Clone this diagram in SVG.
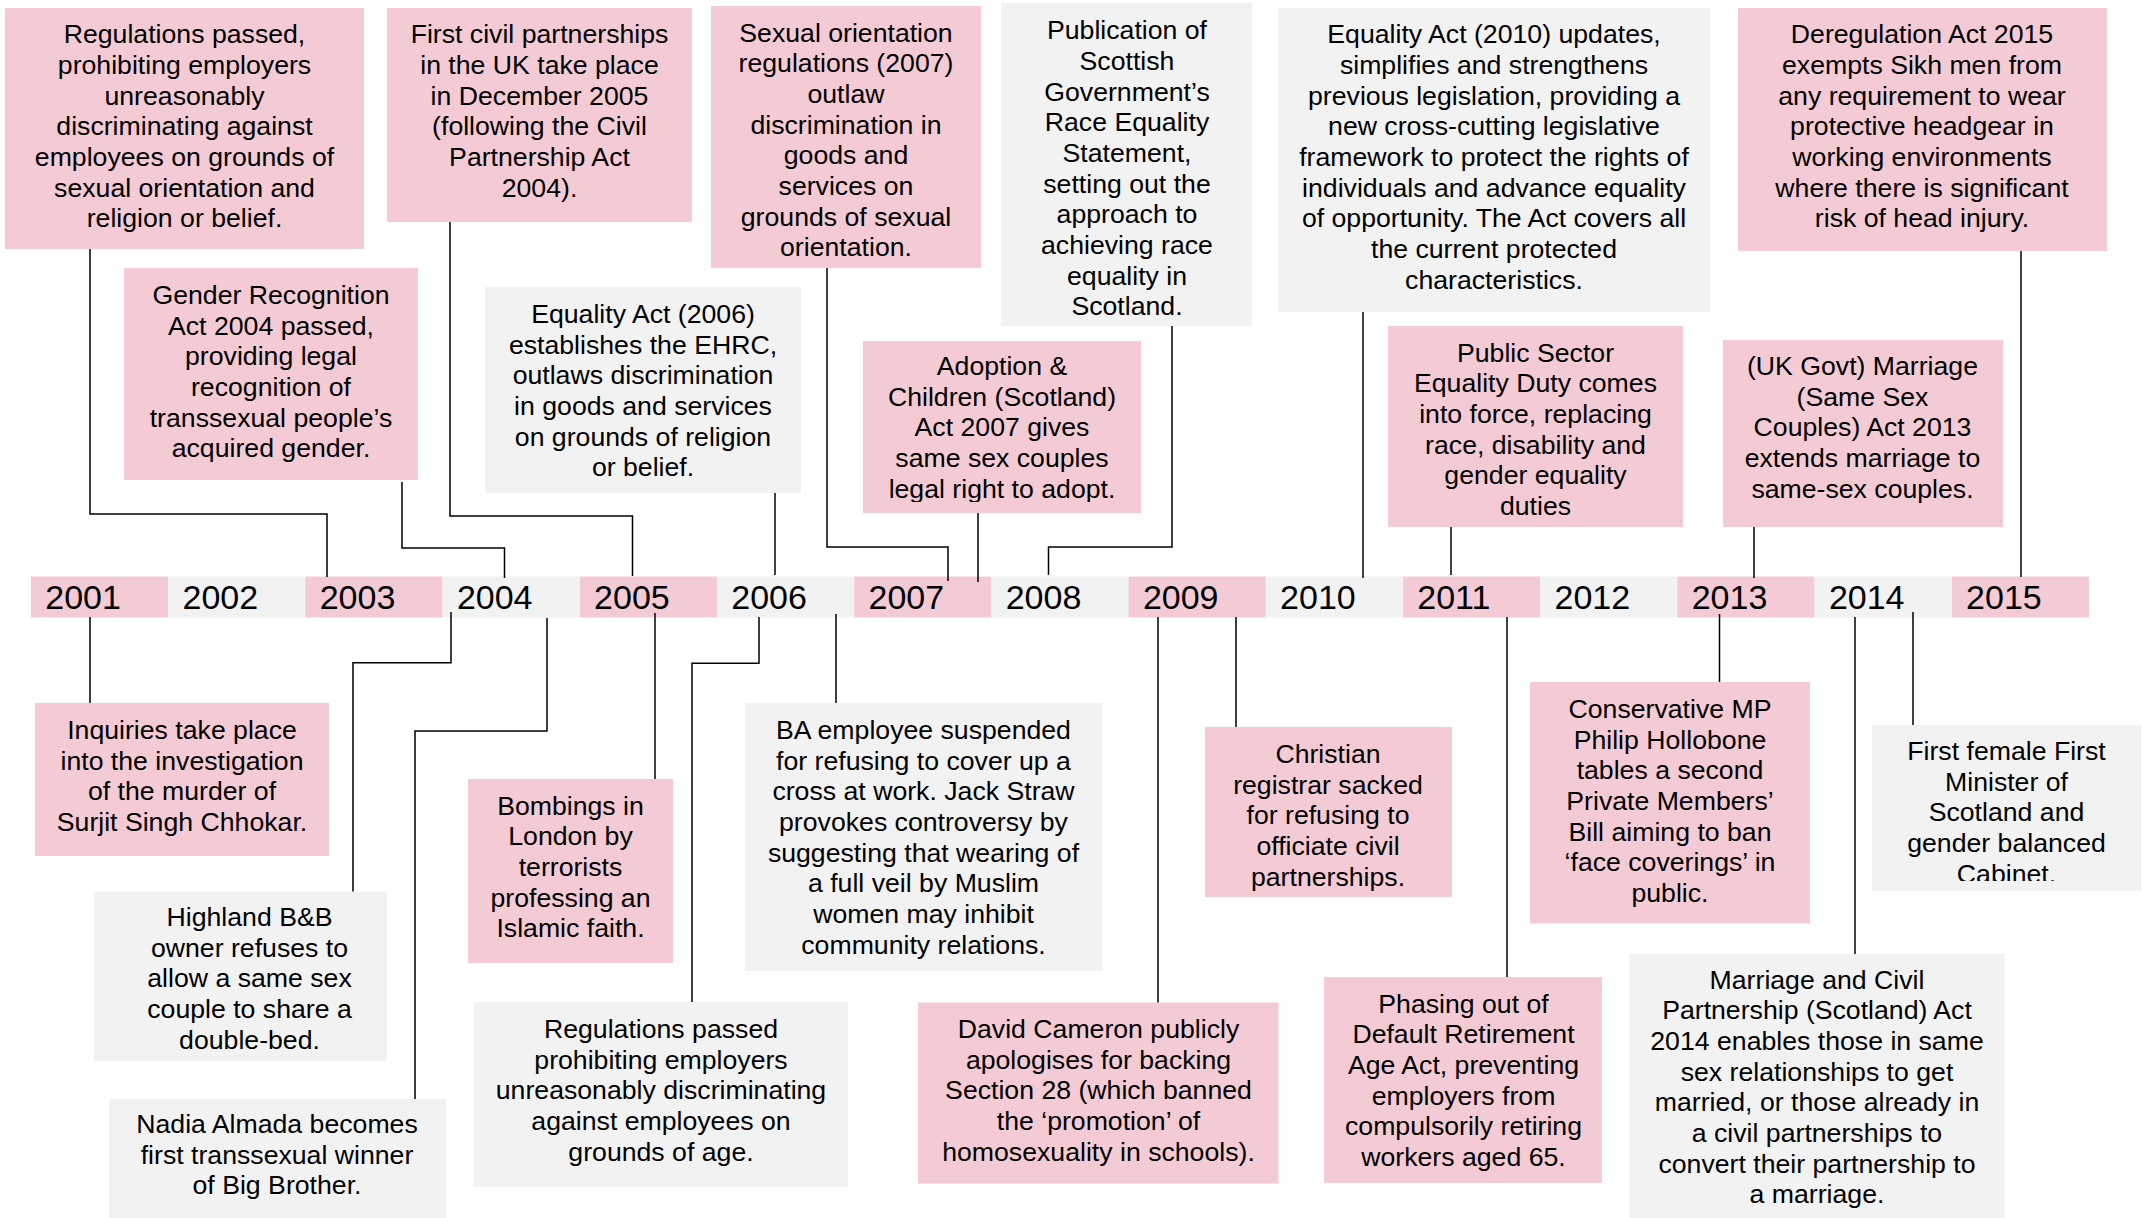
<svg xmlns="http://www.w3.org/2000/svg" width="2150" height="1218" viewBox="0 0 2150 1218">
<style>
.pk{fill:#F4CBD5}
.gy{fill:#F2F2F2}
.t{font-family:"Liberation Sans",Arial,sans-serif;font-size:26.67px;fill:#000;text-anchor:middle}
.yr{font-family:"Liberation Sans",Arial,sans-serif;font-size:34px;fill:#000}
.c{fill:none;stroke:#000;stroke-width:1.5}
</style>
<defs>
<clipPath id="clipG"><rect x="863" y="341" width="278" height="161"/></clipPath>
<clipPath id="clipW"><rect x="1872" y="725" width="269" height="156"/></clipPath>
</defs>
<rect width="2150" height="1218" fill="#FFFFFF"/>

<g id="timeline">
<rect class="pk" x="31" y="576.5" width="137.2" height="41"/>
<rect class="gy" x="168.2" y="576.5" width="137.2" height="41"/>
<rect class="pk" x="305.4" y="576.5" width="137.2" height="41"/>
<rect class="gy" x="442.6" y="576.5" width="137.2" height="41"/>
<rect class="pk" x="579.8" y="576.5" width="137.2" height="41"/>
<rect class="gy" x="717" y="576.5" width="137.2" height="41"/>
<rect class="pk" x="854.2" y="576.5" width="137.2" height="41"/>
<rect class="gy" x="991.4" y="576.5" width="137.2" height="41"/>
<rect class="pk" x="1128.6" y="576.5" width="137.2" height="41"/>
<rect class="gy" x="1265.8" y="576.5" width="137.2" height="41"/>
<rect class="pk" x="1403" y="576.5" width="137.2" height="41"/>
<rect class="gy" x="1540.2" y="576.5" width="137.2" height="41"/>
<rect class="pk" x="1677.4" y="576.5" width="137.2" height="41"/>
<rect class="gy" x="1814.6" y="576.5" width="137.2" height="41"/>
<rect class="pk" x="1951.8" y="576.5" width="137.2" height="41"/>
<text class="yr" x="45.3" y="609">2001</text>
<text class="yr" x="182.5" y="609">2002</text>
<text class="yr" x="319.7" y="609">2003</text>
<text class="yr" x="456.9" y="609">2004</text>
<text class="yr" x="594.1" y="609">2005</text>
<text class="yr" x="731.3" y="609">2006</text>
<text class="yr" x="868.5" y="609">2007</text>
<text class="yr" x="1005.7" y="609">2008</text>
<text class="yr" x="1142.9" y="609">2009</text>
<text class="yr" x="1280.1" y="609">2010</text>
<text class="yr" x="1417.3" y="609">2011</text>
<text class="yr" x="1554.5" y="609">2012</text>
<text class="yr" x="1691.7" y="609">2013</text>
<text class="yr" x="1828.9" y="609">2014</text>
<text class="yr" x="1966.1" y="609">2015</text>
</g>

<g id="n2003a">
<rect class="pk" x="5" y="8" width="359" height="241"/>
<text class="t" y="43.3"><tspan x="184.5">Regulations passed,</tspan><tspan x="184.5" dy="30.67">prohibiting employers</tspan><tspan x="184.5" dy="30.67">unreasonably</tspan><tspan x="184.5" dy="30.67">discriminating against</tspan><tspan x="184.5" dy="30.67">employees on grounds of</tspan><tspan x="184.5" dy="30.67">sexual orientation and</tspan><tspan x="184.5" dy="30.67">religion or belief.</tspan></text>
</g>
<g id="n2005a">
<rect class="pk" x="387" y="8" width="305" height="214"/>
<text class="t" y="43.3"><tspan x="539.5">First civil partnerships</tspan><tspan x="539.5" dy="30.67">in the UK take place</tspan><tspan x="539.5" dy="30.67">in December 2005</tspan><tspan x="539.5" dy="30.67">(following the Civil</tspan><tspan x="539.5" dy="30.67">Partnership Act</tspan><tspan x="539.5" dy="30.67">2004).</tspan></text>
</g>
<g id="n2004a">
<rect class="pk" x="124" y="268" width="294" height="212"/>
<text class="t" y="304"><tspan x="271">Gender Recognition</tspan><tspan x="271" dy="30.67">Act 2004 passed,</tspan><tspan x="271" dy="30.67">providing legal</tspan><tspan x="271" dy="30.67">recognition of</tspan><tspan x="271" dy="30.67">transsexual people’s</tspan><tspan x="271" dy="30.67">acquired gender.</tspan></text>
</g>
<g id="n2006a">
<rect class="gy" x="485" y="287" width="316" height="206"/>
<text class="t" y="323"><tspan x="643">Equality Act (2006)</tspan><tspan x="643" dy="30.67">establishes the EHRC,</tspan><tspan x="643" dy="30.67">outlaws discrimination</tspan><tspan x="643" dy="30.67">in goods and services</tspan><tspan x="643" dy="30.67">on grounds of religion</tspan><tspan x="643" dy="30.67">or belief.</tspan></text>
</g>
<g id="n2007a">
<rect class="pk" x="711" y="6" width="270" height="262"/>
<text class="t" y="41.7"><tspan x="846">Sexual orientation</tspan><tspan x="846" dy="30.67">regulations (2007)</tspan><tspan x="846" dy="30.67">outlaw</tspan><tspan x="846" dy="30.67">discrimination in</tspan><tspan x="846" dy="30.67">goods and</tspan><tspan x="846" dy="30.67">services on</tspan><tspan x="846" dy="30.67">grounds of sexual</tspan><tspan x="846" dy="30.67">orientation.</tspan></text>
</g>
<g id="n2008a">
<rect class="gy" x="1001" y="3" width="251" height="323"/>
<text class="t" y="39.3"><tspan x="1127">Publication of</tspan><tspan x="1127" dy="30.67">Scottish</tspan><tspan x="1127" dy="30.67">Government’s</tspan><tspan x="1127" dy="30.67">Race Equality</tspan><tspan x="1127" dy="30.67">Statement,</tspan><tspan x="1127" dy="30.67">setting out the</tspan><tspan x="1127" dy="30.67">approach to</tspan><tspan x="1127" dy="30.67">achieving race</tspan><tspan x="1127" dy="30.67">equality in</tspan><tspan x="1127" dy="30.67">Scotland.</tspan></text>
</g>
<g id="n2007b">
<rect class="pk" x="863" y="341" width="278" height="172"/>
<text class="t" y="375" clip-path="url(#clipG)"><tspan x="1002">Adoption &amp;</tspan><tspan x="1002" dy="30.67">Children (Scotland)</tspan><tspan x="1002" dy="30.67">Act 2007 gives</tspan><tspan x="1002" dy="30.67">same sex couples</tspan><tspan x="1002" dy="30.67">legal right to adopt.</tspan></text>
</g>
<g id="n2010a">
<rect class="gy" x="1278" y="8" width="432" height="304"/>
<text class="t" y="43.3"><tspan x="1494">Equality Act (2010) updates,</tspan><tspan x="1494" dy="30.67">simplifies and strengthens</tspan><tspan x="1494" dy="30.67">previous legislation, providing a</tspan><tspan x="1494" dy="30.67">new cross-cutting legislative</tspan><tspan x="1494" dy="30.67">framework to protect the rights of</tspan><tspan x="1494" dy="30.67">individuals and advance equality</tspan><tspan x="1494" dy="30.67">of opportunity. The Act covers all</tspan><tspan x="1494" dy="30.67">the current protected</tspan><tspan x="1494" dy="30.67">characteristics.</tspan></text>
</g>
<g id="n2011a">
<rect class="pk" x="1388" y="326" width="295" height="201"/>
<text class="t" y="361.7"><tspan x="1535.5">Public Sector</tspan><tspan x="1535.5" dy="30.67">Equality Duty comes</tspan><tspan x="1535.5" dy="30.67">into force, replacing</tspan><tspan x="1535.5" dy="30.67">race, disability and</tspan><tspan x="1535.5" dy="30.67">gender equality</tspan><tspan x="1535.5" dy="30.67">duties</tspan></text>
</g>
<g id="n2015a">
<rect class="pk" x="1738" y="8" width="369" height="243"/>
<text class="t" y="43.3"><tspan x="1922">Deregulation Act 2015</tspan><tspan x="1922" dy="30.67">exempts Sikh men from</tspan><tspan x="1922" dy="30.67">any requirement to wear</tspan><tspan x="1922" dy="30.67">protective headgear in</tspan><tspan x="1922" dy="30.67">working environments</tspan><tspan x="1922" dy="30.67">where there is significant</tspan><tspan x="1922" dy="30.67">risk of head injury.</tspan></text>
</g>
<g id="n2013a">
<rect class="pk" x="1723" y="340" width="280" height="187"/>
<text class="t" y="375"><tspan x="1862.5">(UK Govt) Marriage</tspan><tspan x="1862.5" dy="30.67">(Same Sex</tspan><tspan x="1862.5" dy="30.67">Couples) Act 2013</tspan><tspan x="1862.5" dy="30.67">extends marriage to</tspan><tspan x="1862.5" dy="30.67">same-sex couples.</tspan></text>
</g>

<g id="n2001b">
<rect class="pk" x="35" y="703" width="294" height="153"/>
<text class="t" y="739"><tspan x="182">Inquiries take place</tspan><tspan x="182" dy="30.67">into the investigation</tspan><tspan x="182" dy="30.67">of the murder of</tspan><tspan x="182" dy="30.67">Surjit Singh Chhokar.</tspan></text>
</g>
<g id="n2004b">
<rect class="gy" x="94" y="891.5" width="293" height="169.5"/>
<text class="t" y="926"><tspan x="249.5">Highland B&amp;B</tspan><tspan x="249.5" dy="30.67">owner refuses to</tspan><tspan x="249.5" dy="30.67">allow a same sex</tspan><tspan x="249.5" dy="30.67">couple to share a</tspan><tspan x="249.5" dy="30.67">double-bed.</tspan></text>
</g>
<g id="n2004c">
<rect class="gy" x="109" y="1099" width="337" height="119"/>
<text class="t" y="1133"><tspan x="277">Nadia Almada becomes</tspan><tspan x="277" dy="30.67">first transsexual winner</tspan><tspan x="277" dy="30.67">of Big Brother.</tspan></text>
</g>
<g id="n2005b">
<rect class="pk" x="468" y="779" width="205" height="184"/>
<text class="t" y="814.6"><tspan x="570.5">Bombings in</tspan><tspan x="570.5" dy="30.67">London by</tspan><tspan x="570.5" dy="30.67">terrorists</tspan><tspan x="570.5" dy="30.67">professing an</tspan><tspan x="570.5" dy="30.67">Islamic faith.</tspan></text>
</g>
<g id="n2006b">
<rect class="gy" x="474" y="1002" width="374" height="185"/>
<text class="t" y="1038"><tspan x="661">Regulations passed</tspan><tspan x="661" dy="30.67">prohibiting employers</tspan><tspan x="661" dy="30.67">unreasonably discriminating</tspan><tspan x="661" dy="30.67">against employees on</tspan><tspan x="661" dy="30.67">grounds of age.</tspan></text>
</g>
<g id="n2006c">
<rect class="gy" x="745" y="703" width="357" height="268"/>
<text class="t" y="739"><tspan x="923.5">BA employee suspended</tspan><tspan x="923.5" dy="30.67">for refusing to cover up a</tspan><tspan x="923.5" dy="30.67">cross at work. Jack Straw</tspan><tspan x="923.5" dy="30.67">provokes controversy by</tspan><tspan x="923.5" dy="30.67">suggesting that wearing of</tspan><tspan x="923.5" dy="30.67">a full veil by Muslim</tspan><tspan x="923.5" dy="30.67">women may inhibit</tspan><tspan x="923.5" dy="30.67">community relations.</tspan></text>
</g>
<g id="n2009b">
<rect class="pk" x="918" y="1002.5" width="360.5" height="181"/>
<text class="t" y="1038"><tspan x="1098.5">David Cameron publicly</tspan><tspan x="1098.5" dy="30.67">apologises for backing</tspan><tspan x="1098.5" dy="30.67">Section 28 (which banned</tspan><tspan x="1098.5" dy="30.67">the ‘promotion’ of</tspan><tspan x="1098.5" dy="30.67">homosexuality in schools).</tspan></text>
</g>
<g id="n2009c">
<rect class="pk" x="1205" y="727" width="247" height="170"/>
<text class="t" y="763"><tspan x="1328">Christian</tspan><tspan x="1328" dy="30.67">registrar sacked</tspan><tspan x="1328" dy="30.67">for refusing to</tspan><tspan x="1328" dy="30.67">officiate civil</tspan><tspan x="1328" dy="30.67">partnerships.</tspan></text>
</g>
<g id="n2011b">
<rect class="pk" x="1324" y="977" width="278" height="206"/>
<text class="t" y="1012.8"><tspan x="1463.5">Phasing out of</tspan><tspan x="1463.5" dy="30.67">Default Retirement</tspan><tspan x="1463.5" dy="30.67">Age Act, preventing</tspan><tspan x="1463.5" dy="30.67">employers from</tspan><tspan x="1463.5" dy="30.67">compulsorily retiring</tspan><tspan x="1463.5" dy="30.67">workers aged 65.</tspan></text>
</g>
<g id="n2013b">
<rect class="pk" x="1530" y="682" width="280" height="241.5"/>
<text class="t" y="718"><tspan x="1670">Conservative MP</tspan><tspan x="1670" dy="30.67">Philip Hollobone</tspan><tspan x="1670" dy="30.67">tables a second</tspan><tspan x="1670" dy="30.67">Private Members’</tspan><tspan x="1670" dy="30.67">Bill aiming to ban</tspan><tspan x="1670" dy="30.67">‘face coverings’ in</tspan><tspan x="1670" dy="30.67">public.</tspan></text>
</g>
<g id="n2014b">
<rect class="gy" x="1629.5" y="954" width="375" height="264"/>
<text class="t" y="988.6"><tspan x="1817">Marriage and Civil</tspan><tspan x="1817" dy="30.67">Partnership (Scotland) Act</tspan><tspan x="1817" dy="30.67">2014 enables those in same</tspan><tspan x="1817" dy="30.67">sex relationships to get</tspan><tspan x="1817" dy="30.67">married, or those already in</tspan><tspan x="1817" dy="30.67">a civil partnerships to</tspan><tspan x="1817" dy="30.67">convert their partnership to</tspan><tspan x="1817" dy="30.67">a marriage.</tspan></text>
</g>
<g id="n2014c">
<rect class="gy" x="1872" y="725" width="269" height="166"/>
<text class="t" y="760" clip-path="url(#clipW)"><tspan x="2006.5">First female First</tspan><tspan x="2006.5" dy="30.67">Minister of</tspan><tspan x="2006.5" dy="30.67">Scotland and</tspan><tspan x="2006.5" dy="30.67">gender balanced</tspan><tspan x="2006.5" dy="30.67">Cabinet.</tspan></text>
</g>

<g id="connectors">
<path class="c" d="M90,249 V514 H327 V577"/>
<path class="c" d="M450,222 V516 H632.5 V576"/>
<path class="c" d="M402,482 V548 H504.5 V578"/>
<path class="c" d="M775,493 V575"/>
<path class="c" d="M827,268 V547 H948 V581"/>
<path class="c" d="M978,513 V582"/>
<path class="c" d="M1172,326 V547 H1048.5 V575"/>
<path class="c" d="M1363,312 V578"/>
<path class="c" d="M1451,527 V575"/>
<path class="c" d="M1754,527 V578"/>
<path class="c" d="M2021,251 V577"/>
<path class="c" d="M90,617 V703"/>
<path class="c" d="M451,612 V662.7 H353 V891.5"/>
<path class="c" d="M547,618 V731 H415 V1099"/>
<path class="c" d="M655,613 V779"/>
<path class="c" d="M759,617 V663.3 H692 V1002"/>
<path class="c" d="M836,614 V703"/>
<path class="c" d="M1158,617 V1002.5"/>
<path class="c" d="M1236,617 V727"/>
<path class="c" d="M1507,617 V977"/>
<path class="c" d="M1719.5,614 V682"/>
<path class="c" d="M1855,617 V954"/>
<path class="c" d="M1913,612 V725"/>
</g>
</svg>
